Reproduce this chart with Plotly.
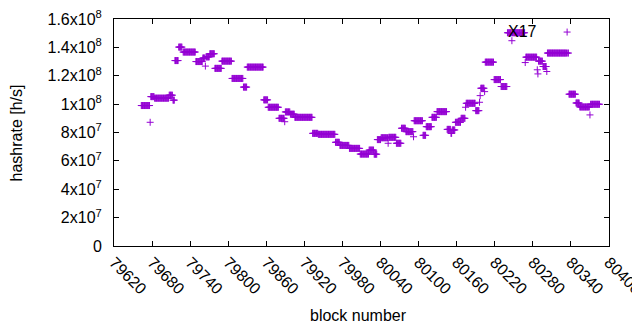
import plotly.graph_objects as go

# Runs of constant hashrate estimate (first block, last block, value in h/s)
run_start = [79663, 79677, 79678, 79684, 79707, 79713, 79716, 79722, 79729, 79749,
             79760, 79764, 79765, 79771, 79779, 79790, 79806, 79824, 79830, 79856,
             79863, 79880, 79889, 79890, 79898, 79905, 79933, 79942, 79969, 79976,
             79991, 80008, 80022, 80030, 80035, 80041, 80052, 80053, 80065, 80073,
             80080, 80092, 80093, 80107, 80112, 80121, 80129, 80145, 80151, 80153,
             80158, 80167, 80174, 80175, 80190, 80196, 80197, 80198, 80204, 80205,
             80219, 80230, 80240, 80247, 80248, 80268, 80269, 80287, 80288, 80289,
             80296, 80302, 80303, 80334, 80335, 80337, 80348, 80354, 80370, 80371]
run_end = [79676, 79677, 79683, 79706, 79712, 79715, 79721, 79727, 79748, 79759,
           79763, 79764, 79770, 79778, 79789, 79805, 79823, 79829, 79855, 79862,
           79879, 79888, 79889, 79897, 79904, 79932, 79941, 79968, 79975, 79990,
           80007, 80021, 80029, 80034, 80040, 80051, 80052, 80064, 80072, 80079,
           80091, 80092, 80106, 80111, 80120, 80128, 80144, 80150, 80152, 80157,
           80166, 80173, 80174, 80189, 80195, 80196, 80197, 80203, 80204, 80218,
           80229, 80239, 80246, 80247, 80267, 80268, 80286, 80287, 80288, 80295,
           80301, 80302, 80333, 80334, 80336, 80347, 80353, 80369, 80370, 80385]
run_value = [9.90e7, 8.72e7, 1.053e8, 1.042e8, 1.063e8, 1.028e8, 1.307e8, 1.402e8, 1.367e8, 1.300e8,
             1.325e8, 1.268e8, 1.333e8, 1.355e8, 1.252e8, 1.303e8, 1.181e8, 1.120e8, 1.261e8, 1.030e8,
             9.78e7, 9.00e7, 8.76e7, 9.45e7, 9.29e7, 9.07e7, 7.94e7, 7.87e7, 7.31e7, 7.09e7,
             6.88e7, 6.48e7, 6.76e7, 6.47e7, 7.50e7, 7.63e7, 7.24e7, 7.66e7, 7.24e7, 8.30e7,
             8.06e7, 7.70e7, 8.83e7, 7.80e7, 8.41e7, 9.07e7, 9.47e7, 8.22e7, 7.94e7, 8.18e7,
             8.72e7, 9.00e7, 9.78e7, 1.006e8, 9.54e7, 1.013e8, 1.060e8, 1.112e8, 1.088e8, 1.296e8,
             1.173e8, 1.124e8, 1.503e8, 1.447e8, 1.503e8, 1.293e8, 1.331e8, 1.242e8, 1.213e8, 1.303e8,
             1.265e8, 1.230e8, 1.360e8, 1.508e8, 1.360e8, 1.070e8, 1.008e8, 9.80e7, 9.24e7, 9.99e7]

x_ticks = [79620, 79680, 79740, 79800, 79860, 79920, 79980, 80040, 80100,
           80160, 80220, 80280, 80340, 80400]
y_ticks = [0, 2e7, 4e7, 6e7, 8e7, 1e8, 1.2e8, 1.4e8, 1.6e8]
y_ticktext = ["0", "2x10<sup>7</sup>", "4x10<sup>7</sup>", "6x10<sup>7</sup>",
              "8x10<sup>7</sup>", "1x10<sup>8</sup>", "1.2x10<sup>8</sup>",
              "1.4x10<sup>8</sup>", "1.6x10<sup>8</sup>"]

label_text = "X17"
label_x = 80237
label_y = 1.512e8

blocks, rates = [], []
for s, e, v in zip(run_start, run_end, run_value):
    for b in range(s, e + 1):
        blocks.append(b)
        rates.append(v)

FONT = "Liberation Sans, Arial, sans-serif"

fig = go.Figure()
fig.add_trace(go.Scatter(
    x=blocks, y=rates, mode="markers",
    marker=dict(symbol="cross-thin", size=5, color="#9400D3",
                line=dict(color="#9400D3", width=1)),
    showlegend=False, hoverinfo="skip"))

fig.add_annotation(x=label_x, y=label_y, xref="x", yref="y", text=label_text,
                   showarrow=False, xanchor="left", yanchor="middle",
                   font=dict(family=FONT, size=16, color="#000000"))
fig.add_annotation(x=-0.196, y=0.5, xref="paper", yref="paper", text="hashrate [h/s]",
                   showarrow=False, textangle=-90, xanchor="center", yanchor="middle",
                   font=dict(family=FONT, size=16, color="#000000"))
fig.add_annotation(x=0.493, y=-0.308, xref="paper", yref="paper", text="block number",
                   showarrow=False, xanchor="center", yanchor="middle",
                   font=dict(family=FONT, size=16, color="#000000"))

axis_common = dict(showgrid=False, zeroline=False, showline=True, linecolor="black",
                   linewidth=1, mirror="ticks", ticks="inside", ticklen=5,
                   tickcolor="black", tickwidth=1, automargin=False,
                   ticklabeloverflow="allow",
                   tickfont=dict(family=FONT, size=16, color="#000000"))

# the page body adds an 8px offset, so the figure is 8px smaller than the window
fig.update_layout(
    width=632, height=322,
    margin=dict(l=106, r=31, t=11, b=84),
    paper_bgcolor="white", plot_bgcolor="white",
    xaxis=dict(range=[79620, 80400], tickvals=x_ticks,
               ticktext=[str(v) for v in x_ticks], tickangle=45, **axis_common),
    yaxis=dict(range=[0, 1.6e8], tickvals=y_ticks, ticktext=y_ticktext,
               ticklabelstandoff=8, **axis_common),
)

fig.write_html("out.html")
